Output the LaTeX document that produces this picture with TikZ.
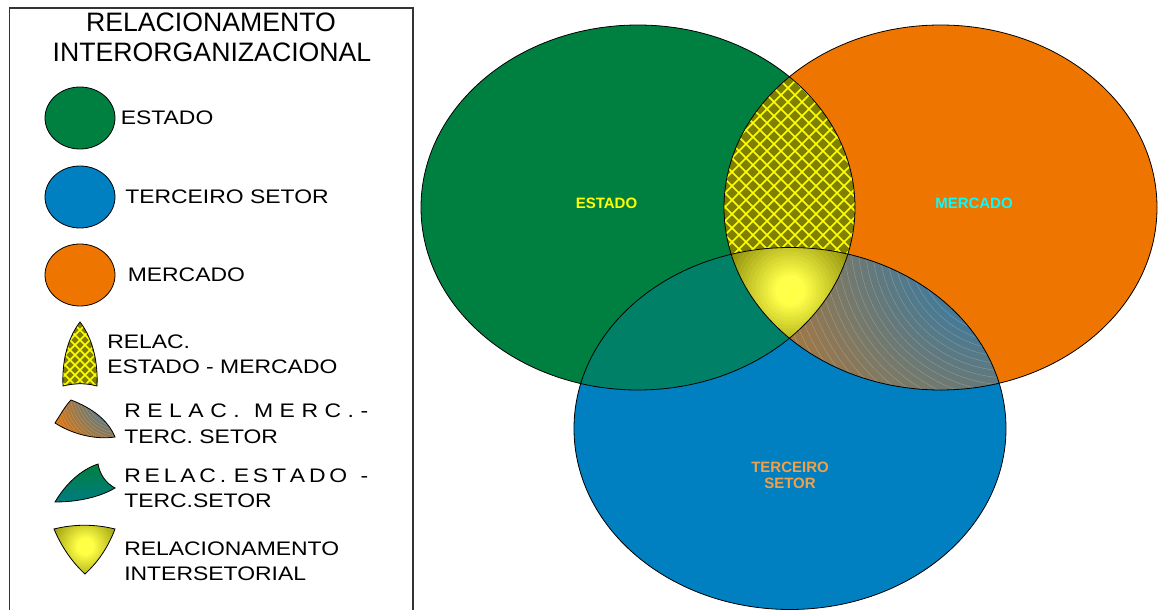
\documentclass[tikz,border=0pt]{standalone}
\usepackage{fontspec}
\setmainfont{Liberation Sans}
\newfontfamily\legfont{Liberation Sans}[FakeStretch=1.17]
\usepackage{tikz}
\usetikzlibrary{positioning}

\definecolor{estado}{RGB}{0,128,64}
\definecolor{mercado}{RGB}{238,118,0}
\definecolor{terceiro}{RGB}{0,128,192}
\definecolor{esttec}{RGB}{0,128,102}
\definecolor{esttecdk}{RGB}{0,124,128}
\definecolor{lensolive}{RGB}{128,128,0}
\definecolor{hatchyel}{RGB}{255,255,0}
\definecolor{brightyel}{RGB}{255,255,70}
\definecolor{steel}{RGB}{70,122,150}
\definecolor{tslabel}{RGB}{245,160,70}
\definecolor{merclbl}{RGB}{0,255,255}

\pgfdeclareradialshading{mercterc}{\pgfpoint{0bp}{0bp}}{color(0bp)=(steel); color(9bp)=(steel); color(35bp)=(mercado); color(50bp)=(mercado)}
\pgfdeclareradialshading{mercicon}{\pgfpoint{0bp}{0bp}}{color(0bp)=(steel); color(6bp)=(steel); color(21bp)=(mercado); color(50bp)=(mercado)}
\pgfdeclareradialshading{interset}{\pgfpoint{0bp}{0bp}}{color(0bp)=(brightyel); color(5bp)=(brightyel); color(27bp)=(lensolive); color(50bp)=(lensolive)}

\newcommand{\estadoshape}{(638,207.5) ellipse [x radius=217, y radius=182.5]}
\newcommand{\mercadoshape}{(940.5,207.5) ellipse [x radius=216.5, y radius=182.5]}
\newcommand{\terceiroshape}{(790,428.5) ellipse [x radius=216, y radius=181]}
\newcommand{\lensicon}{(80,322) .. controls (66,340) and (62,365) .. (63,386) .. controls (75,383) and (86,383) .. (97,386) .. controls (98,365) and (94,340) .. (80,322) -- cycle}
\newcommand{\mticon}{(55,423) .. controls (62,412) and (66,405) .. (71,400) .. controls (92,408) and (108,420) .. (115,437) .. controls (95,440) and (72,434) .. (55,423) -- cycle}
\newcommand{\eticon}{(55,502) .. controls (65,485) and (80,470) .. (98,464) .. controls (100,475) and (106,483) .. (115,488) .. controls (100,497) and (78,502) .. (55,502) -- cycle}
\newcommand{\inicon}{(54,529) .. controls (74,524) and (95,524) .. (115,529) .. controls (108,548) and (97,563) .. (85,574) .. controls (73,563) and (62,548) .. (54,529) -- cycle}

\begin{document}
\begin{tikzpicture}[
  x=0.75pt, y=-0.75pt,
  venn/.style={draw=black, line width=0.6pt},
  icon/.style={draw=black, line width=0.6pt},
  hatch/.style={hatchyel, line width=1.3pt},
  ttl/.style={inner sep=0pt, anchor=base, font=\fontsize{20}{24}\selectfont},
  leg/.style={inner sep=0pt, anchor=base west, font=\legfont\fontsize{14.7}{17}\selectfont},
  lbl/.style={inner sep=0pt, anchor=base, align=center, font=\bfseries\fontsize{11.25}{12}\selectfont}
]
\useasboundingbox (0,0) rectangle (1165,610);

% legend frame
\draw[line width=0.9pt, black!80] (9.5,625) -- (9.5,8) -- (413,8) -- (413,625);
\node[ttl] (title1) at (211,32) {RELACIONAMENTO};
\node[ttl] (title2) at (212,62) {INTERORGANIZACIONAL};

\draw[icon, fill=estado] (80,118) ellipse [x radius=35, y radius=31];
\draw[icon, fill=terceiro] (80,197) ellipse [x radius=35, y radius=31];
\draw[icon, fill=mercado] (80,275) ellipse [x radius=35, y radius=31];
\node[leg] (legEst) at (120.5,125) {ESTADO};
\node[leg] (legTer) at (125,203) {TERCEIRO SETOR};
\node[leg] (legMer) at (127.5,281) {MERCADO};

\begin{scope}
  \clip \lensicon;
  \fill[lensolive] (55,315) rectangle (105,395);
  \foreach \i in {-20,-10,...,160} {
    \draw[hatch, line width=1.1pt] (\i,310) -- ++(90,90);
    \draw[hatch, line width=1.1pt] (\i,310) -- ++(-90,90);
  }
\end{scope}
\draw[icon] \lensicon;
\node[leg] (legEM1) at (107,348) {RELAC.};
\node[leg] (legEM2) at (107,373) {ESTADO - MERCADO};

\begin{scope}
  \clip \mticon;
  \shade[shading=mercicon] (120,392) circle (90);
  \foreach \r in {8,11,...,80}
    \draw[white, opacity=.25, line width=.25pt] (120,392) circle (\r);
\end{scope}
\draw[icon] \mticon;
\node[leg] (legMT1) at (124,417) {\hbox to 183pt{R\hfill E\hfill L\hfill A\hfill C\hfill .\hspace{0pt plus 2.2fill}M\hfill E\hfill R\hfill C\hfill .\hfill -}};
\node[leg] (legMT2) at (124,443) {TERC. SETOR};

\shadedraw[icon, top color=estado, bottom color=esttecdk] \eticon;
\node[leg] (legET1) at (124,482) {\hbox to 183pt{R\hfill E\hfill L\hfill A\hfill C\hfill .\hspace{0pt plus 2fill}E\hfill S\hfill T\hfill A\hfill D\hfill O\hspace{0pt plus 3.5fill}-}};
\node[leg] (legET2) at (124,507) {TERC.SETOR};

\begin{scope}
  \clip \inicon;
  \shade[shading=interset] (85,546) circle (40);
\end{scope}
\draw[icon] \inicon;
\node[leg] (legIn1) at (124,555) {RELACIONAMENTO};
\node[leg] (legIn2) at (124,580) {INTERSETORIAL};

% diagram
\fill[estado] \estadoshape;
\fill[mercado] \mercadoshape;
\fill[terceiro] \terceiroshape;
\begin{scope}
  \clip \estadoshape;
  \fill[esttec] \terceiroshape;
\end{scope}
\begin{scope}
  \clip \mercadoshape;
  \clip \terceiroshape;
  \shade[shading=mercterc] (1010,240) circle (260);
  \foreach \r in {40,47,...,260}
    \draw[white, opacity=.25, line width=.3pt] (1010,240) circle (\r);
\end{scope}
\begin{scope}
  \clip \estadoshape;
  \clip \mercadoshape;
  \fill[lensolive] (700,60) rectangle (880,360);
  \foreach \i in {480,494,...,1100} {
    \draw[hatch] (\i,60) -- ++(300,300);
    \draw[hatch] (\i,60) -- ++(-300,300);
  }
\end{scope}
\begin{scope}
  \clip \estadoshape;
  \clip \mercadoshape;
  \clip \terceiroshape;
  \shade[shading=interset] (790,290) circle (70);
  \foreach \r in {6,10,...,60}
    \draw[white, opacity=.12, line width=.3pt] (790,290) circle (\r);
\end{scope}
\draw[venn] \estadoshape;
\draw[venn] \mercadoshape;
\draw[venn] \terceiroshape;

\node[lbl, text=hatchyel] (lblEst) at (606.5,209) {ESTADO};
\node[lbl, text=merclbl] (lblMer) at (974,209) {MERCADO};
\node[lbl, text=tslabel] (lblTer) at (790,488) {TERCEIRO\\SETOR};
\end{tikzpicture}
\end{document}
